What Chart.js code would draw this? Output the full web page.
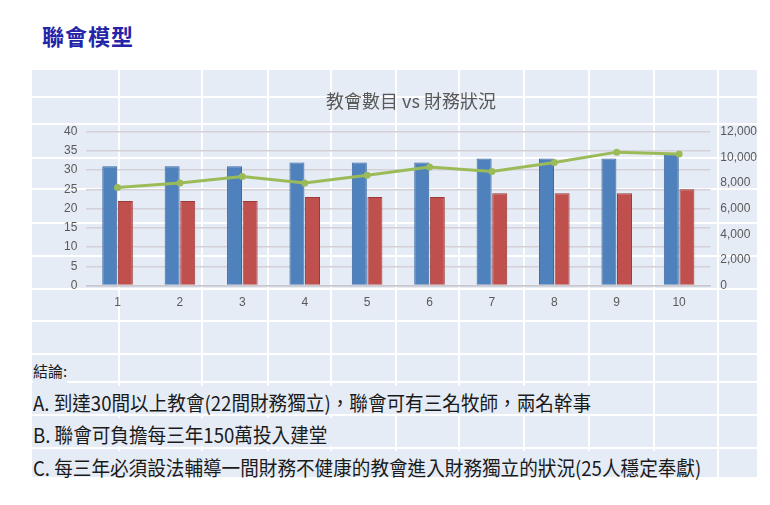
<!DOCTYPE html>
<html>
<head>
<meta charset="utf-8">
<script src="https://cdn.jsdelivr.net/npm/chart.js@4/dist/chart.umd.min.js"></script>
<style>
body { margin: 0; width: 770px; height: 505px; position: relative; overflow: hidden; background: #fff; font-family: "Noto Sans CJK TC", sans-serif; }
#heading { position: absolute; left: 42px; top: 19px; font-size: 22px; font-weight: bold; color: #2424a8; letter-spacing: 1px; }
#sheet { position: absolute; left: 32px; top: 70px; width: 725px; height: 407px; background: #e5ecf5; }
.vl { position: absolute; top: 0; width: 2px; height: 407px; background: #fff; }
.hl { position: absolute; left: 0; width: 725px; height: 2px; background: #fff; }
#chart { position: absolute; left: 55px; top: 70px; }
.note { position: absolute; left: 33px; background: #e5ecf5; color: #1a1a1a; white-space: nowrap; transform-origin: left center; }
.big { font-size: 20px; height: 25px; line-height: 28px; padding-top: 3px; padding-right: 12px; transform: scaleX(0.93); overflow: visible; }
</style>
</head>
<body>
<div id="heading">聯會模型</div>
<div id="sheet"></div>
<canvas id="chart" width="712" height="260"></canvas>
<div class="note" style="top:358px;font-size:15px;line-height:26px;">結論:</div>
<div class="note big" style="top:386px;">A. 到達30間以上教會(22間財務獨立)，聯會可有三名牧師，兩名幹事</div>
<div class="note big" style="top:418px;">B. 聯會可負擔每三年150萬投入建堂</div>
<div class="note big" style="top:451px;height:23px;">C. 每三年必須設法輔導一間財務不健康的教會進入財務獨立的狀況(25人穩定奉獻)</div>
<script>
const years = ['1', '2', '3', '4', '5', '6', '7', '8', '9', '10'];
const churchCount = [31, 31, 31, 32, 32, 32, 33, 33, 33, 34];
const independentCount = [22, 22, 22, 23, 23, 23, 24, 24, 24, 25];
const offering = [7650, 8000, 8500, 8000, 8600, 9250, 8900, 9600, 10400, 10250];

// spreadsheet cell lines behind the chart (page offsets)
const colLines = [86, 169, 235, 298, 363, 426, 491, 556, 621, 685];
const rowLines = [26, 53, 87, 118, 152, 185, 218, 250, 283, 311, 344, 377];

const sheet = document.getElementById('sheet');
for (const x of colLines) {
    const d = document.createElement('div');
    d.className = 'vl';
    d.style.left = x + 'px';
    sheet.appendChild(d);
}
for (const y of rowLines) {
    const d = document.createElement('div');
    d.className = 'hl';
    d.style.top = y + 'px';
    sheet.appendChild(d);
}

const tickFont = { family: '"Liberation Sans", sans-serif', size: 12 };
const ctx = document.getElementById('chart').getContext('2d');

new Chart(ctx, {
    data: {
        labels: years,
        datasets: [
            {
                type: 'line',
                label: '奉獻',
                data: offering,
                yAxisID: 'y1',
                order: 0,
                borderColor: '#9bbb59',
                backgroundColor: '#9bbb59',
                borderWidth: 3,
                pointRadius: 3.5,
                pointBorderWidth: 0,
                tension: 0
            },
            {
                type: 'bar',
                label: '教會數目',
                data: churchCount,
                yAxisID: 'y',
                order: 1,
                backgroundColor: '#4f81bd',
                borderColor: '#3c6aa3',
                borderWidth: 1,
                categoryPercentage: 0.5,
                barPercentage: 0.96
            },
            {
                type: 'bar',
                label: '財務獨立',
                data: independentCount,
                yAxisID: 'y',
                order: 1,
                backgroundColor: '#c0504d',
                borderColor: '#9c3a37',
                borderWidth: 1,
                categoryPercentage: 0.5,
                barPercentage: 0.96
            }
        ]
    },
    options: {
        responsive: false,
        animation: false,
        devicePixelRatio: 1,
        layout: { padding: { top: 20, bottom: 10, left: 0, right: 0 } },
        plugins: {
            legend: { display: false },
            tooltip: { enabled: false },
            title: {
                display: true,
                text: '教會數目 vs 財務狀況',
                color: '#595959',
                font: { family: '"Noto Sans CJK TC", sans-serif', size: 18, weight: 'normal' },
                padding: { top: 0, bottom: 20 }
            }
        },
        scales: {
            x: {
                grid: { display: false, drawTicks: false },
                border: { display: true, color: '#c9c6cc', width: 1.5 },
                ticks: { color: '#595959', font: tickFont, padding: 10 }
            },
            y: {
                position: 'left',
                min: 0,
                max: 40,
                ticks: { stepSize: 5, autoSkip: false, maxTicksLimit: 20, color: '#595959', font: tickFont, padding: 9 },
                grid: { color: '#d5d0d8', lineWidth: 1.5, drawTicks: false },
                border: { display: false }
            },
            y1: {
                position: 'right',
                min: 0,
                max: 12000,
                ticks: { stepSize: 2000, autoSkip: false, color: '#595959', font: tickFont, padding: 10 },
                grid: { drawOnChartArea: false, drawTicks: false },
                border: { display: false }
            }
        }
    }
});
</script>
</body>
</html>
